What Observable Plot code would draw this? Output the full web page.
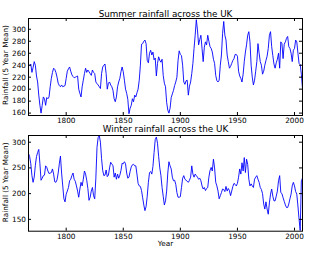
<!DOCTYPE html>
<html>
<head>
<meta charset="utf-8">
<script src="https://cdn.jsdelivr.net/npm/d3@7"></script>
<script src="https://cdn.jsdelivr.net/npm/@observablehq/plot@0.6"></script>
<style>
  body { margin: 0; background: #fff; }
  #chart svg { display: block; overflow: visible; }
</style>
</head>
<body>
<div id="chart"></div>
<script>
// UK rainfall, 5-year running mean, one value per year from 1767 to 2007
const firstYear = 1767;

const summerRain = [
  238, 240, 242,
  228, 236, 246, 240, 222, 212, 190, 173, 160, 173,
  187, 184, 173, 186, 184, 187, 204, 218, 228, 235,
  233, 228, 220, 210, 206, 204, 207, 204, 205, 206,
  218, 230, 234, 237, 230, 224, 221, 219, 220, 221,
  222, 200, 193, 187, 204, 215, 226, 235, 228, 232,
  229, 226, 223, 232, 228, 226, 212, 209, 207, 204,
  201, 226, 237, 240, 242, 226, 200, 210, 212, 207,
  204, 198, 184, 179, 187, 204, 212, 218, 229, 237,
  229, 215, 200, 193, 183, 159, 168, 173, 184, 179,
  190, 187, 194, 200, 215, 240, 275, 276, 280, 282,
  276, 248, 244, 260, 265, 257, 262, 249, 252, 222,
  243, 254, 248, 245, 250, 223, 210, 204, 178, 165,
  160, 168, 186, 192, 198, 206, 212, 220, 248, 264,
  258, 256, 240, 212, 208, 214, 215, 190, 205, 212,
  226, 243, 268, 290, 316, 299, 274, 283, 290, 268,
  246, 270, 279, 274, 290, 280, 271, 268, 262, 250,
  243, 223, 214, 212, 215, 240, 257, 293, 313, 290,
  282, 257, 246, 235, 238, 243, 248, 251, 258, 258,
  255, 230, 222, 218, 212, 225, 246, 262, 274, 290,
  296, 279, 240, 220, 207, 215, 230, 246, 276, 260,
  246, 240, 225, 230, 240, 248, 255, 268, 290, 296,
  271, 256, 242, 235, 244, 250, 260, 235, 279, 276,
  251, 275, 279, 285, 288, 271, 268, 260, 246, 265,
  268, 282, 279, 260, 243, 241, 225, 201
];

const winterRain = [
  278, 272, 258,
  235, 222, 232, 255, 272, 280, 286, 258, 226, 230,
  235, 236, 254, 251, 244, 239, 240, 241, 248, 238,
  223, 222, 227, 240, 258, 273, 240, 215, 190, 184,
  199, 205, 212, 225, 228, 235, 240, 228, 224, 215,
  205, 193, 209, 222, 215, 228, 244, 238, 226, 210,
  187, 193, 205, 212, 196, 190, 230, 290, 309, 313,
  300, 268, 245, 235, 236, 246, 233, 236, 250, 261,
  257, 255, 232, 240, 228, 238, 230, 236, 245, 259,
  258, 262, 258, 240, 230, 232, 243, 252, 256, 257,
  254, 254, 238, 220, 215, 214, 206, 192, 178, 167,
  175, 195, 222, 241, 243, 238, 253, 280, 305, 310,
  298, 272, 250, 235, 212, 195, 178, 186, 205, 240,
  262, 254, 248, 232, 225, 226, 218, 202, 193, 193,
  194, 212, 230, 235, 228, 226, 224, 222, 226, 232,
  254, 238, 232, 238, 235, 232, 228, 230, 225, 215,
  209, 212, 206, 210, 212, 232, 245, 251, 244, 267,
  250, 222, 215, 205, 190, 196, 202, 209, 208, 204,
  214, 205, 210, 206, 196, 205, 214, 220, 218, 215,
  220, 232, 248, 238, 260, 244, 270, 241, 267, 257,
  228, 215, 219, 215, 212, 228, 232, 235, 228, 222,
  212, 208, 200, 180, 170, 184, 170, 160, 182, 199,
  209, 195, 186, 186, 195, 205, 225, 235, 202, 200,
  192, 185, 178, 173, 173, 180, 190, 199, 215, 222,
  215, 204, 199, 176, 150, 128, 225, 230
];

const yearTicks = [1800, 1850, 1900, 1950, 2000];
const summerTicks = [160, 180, 200, 220, 240, 260, 280, 300];
const winterTicks = [150, 200, 250, 300];
const yLabel = "Rainfall (5 Year Mean)";

const W = 335, ML = 28, MR = 33, TICK = 3;
const font = "DejaVu Sans";

function panel({values, yDomain, yTicks, title, titleDy, height, marginTop, marginBottom, labelDy, xLabel}) {
  const rows = values.map((v, i) => ({year: firstYear + i, value: v}));
  const innerH = height - marginTop - marginBottom;
  const innerW = W - ML - MR;
  const marks = [
    Plot.line(rows, {x: "year", y: "value", stroke: "#0000ff", strokeWidth: 0.9, clip: true}),
    Plot.frame({stroke: "black", strokeWidth: 1}),
    // inward ticks on all four sides
    Plot.tickX(yearTicks, {x: d => d, insetTop: innerH - TICK, stroke: "black"}),
    Plot.tickX(yearTicks, {x: d => d, insetBottom: innerH - TICK, stroke: "black"}),
    Plot.tickY(yTicks, {y: d => d, insetRight: innerW - TICK, stroke: "black"}),
    Plot.tickY(yTicks, {y: d => d, insetLeft: innerW - TICK, stroke: "black"}),
    Plot.text([title], {frameAnchor: "top", dy: titleDy, fontSize: 8.8, fill: "black"}),
    Plot.text([yLabel], {frameAnchor: "left", textAnchor: "middle", rotate: -90, dx: -22.7, dy: labelDy, fontSize: 7.3, fill: "black"})
  ];
  if (xLabel) marks.push(Plot.text([xLabel], {frameAnchor: "bottom", dy: 14.3, fontSize: 7.3, fill: "black"}));
  return Plot.plot({
    width: W,
    height,
    marginTop,
    marginBottom,
    marginLeft: ML,
    marginRight: MR,
    style: {fontFamily: font, fontSize: "7.3px", color: "black", background: "white", overflow: "visible"},
    x: {domain: [1767, 2007], ticks: yearTicks, tickFormat: d => String(d), tickSize: 0, tickPadding: 2.5, label: null},
    y: {domain: yDomain, ticks: yTicks, tickSize: 0, tickPadding: 2.5, label: null},
    marks
  });
}

const root = document.getElementById("chart");
root.append(panel({
  values: summerRain,
  yDomain: [156, 318],
  yTicks: summerTicks,
  title: "Summer rainfall across the UK",
  titleDy: -8,
  height: 123,
  marginTop: 18,
  marginBottom: 8,
  labelDy: -2,
}));
root.append(panel({
  values: winterRain,
  yDomain: [127, 313],
  yTicks: winterTicks,
  title: "Winter rainfall across the UK",
  titleDy: -9.5,
  height: 132,
  marginTop: 12,
  marginBottom: 24.3,
  labelDy: -1,
  xLabel: "Year"
}));
</script>
</body>
</html>
